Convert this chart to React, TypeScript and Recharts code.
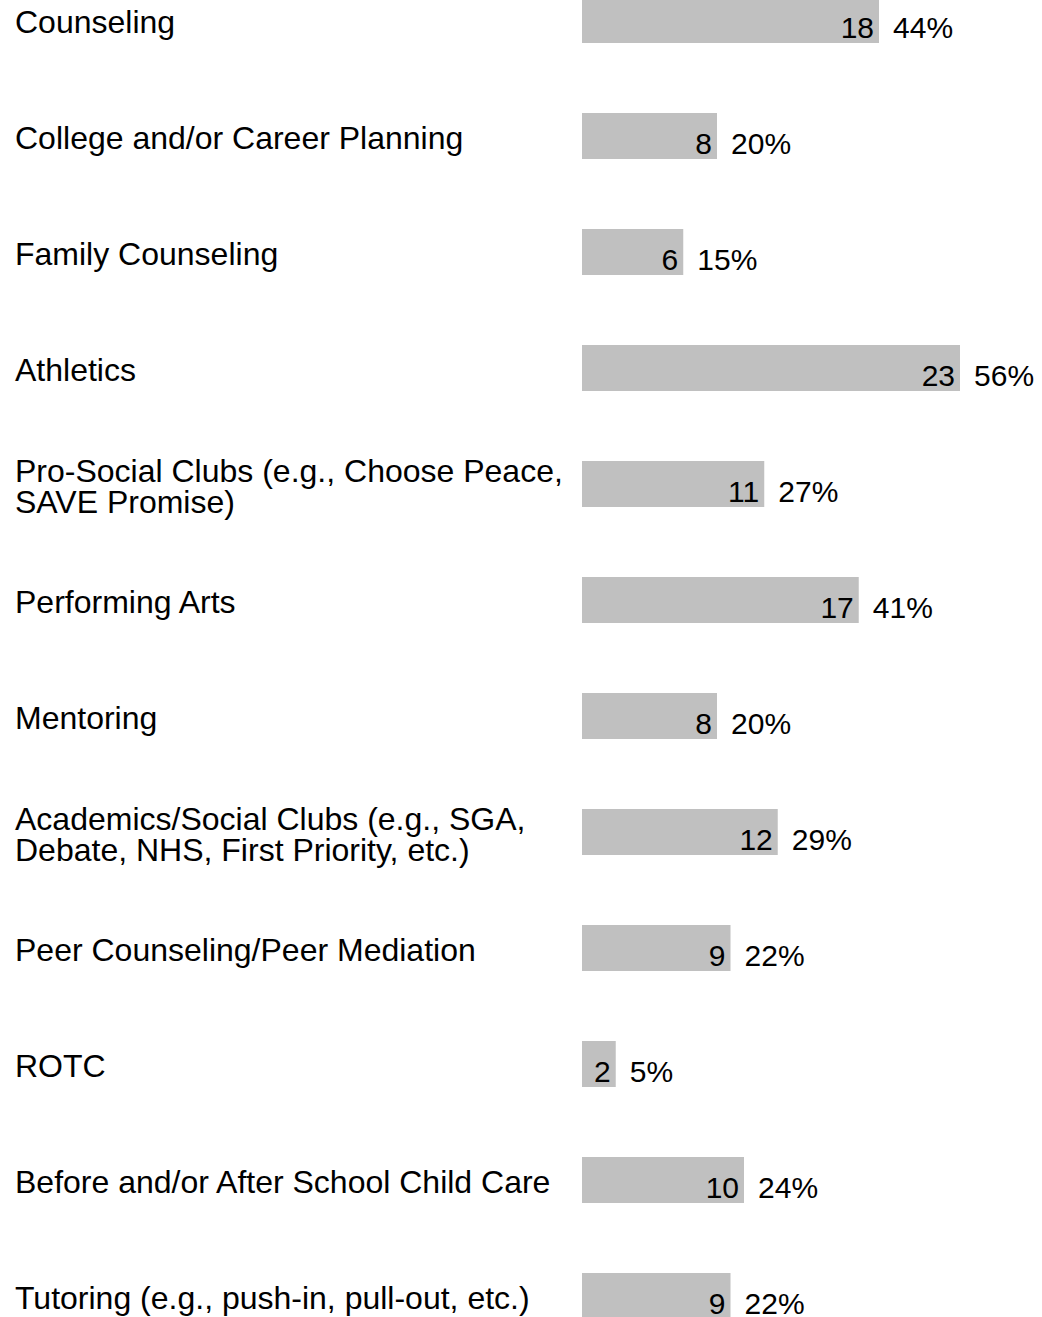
import { Bar, BarChart, LabelList, XAxis, YAxis } from "recharts"

// categories top to bottom; "\n" marks where the source wraps the label
const categories = [
  "Counseling",
  "College and/or Career Planning",
  "Family Counseling",
  "Athletics",
  "Pro-Social Clubs (e.g., Choose Peace,\nSAVE Promise)",
  "Performing Arts",
  "Mentoring",
  "Academics/Social Clubs (e.g., SGA,\nDebate, NHS, First Priority, etc.)",
  "Peer Counseling/Peer Mediation",
  "ROTC",
  "Before and/or After School Child Care",
  "Tutoring (e.g., push-in, pull-out, etc.)",
]
const counts = [18, 8, 6, 23, 11, 17, 8, 12, 9, 2, 10, 9]
const percents = [44, 20, 15, 56, 27, 41, 20, 29, 22, 5, 24, 22]

const FONT = "'Liberation Sans', Arial, sans-serif"
const LABEL_FS = 32
const VALUE_FS = 30
const BAND = 116

const data = categories.map((name, i) => ({ name, count: counts[i], pct: percents[i] }))

function CategoryTick({ y, payload }: any) {
  const lines = String(payload.value).split("\n")
  const lh = 31
  return (
    <text x={15} y={y} fontFamily={FONT} fontSize={LABEL_FS} fill="#000" textAnchor="start">
      {lines.map((l, i) => (
        <tspan key={i} x={15} y={y + 13 + (i - (lines.length - 1) / 2) * lh}>
          {l}
        </tspan>
      ))}
    </text>
  )
}

function CountLabel({ x, y, width, height, value }: any) {
  return (
    <text x={x + width - 5} y={y + height / 2 + 17.5} textAnchor="end" fontFamily={FONT} fontSize={VALUE_FS} fill="#000">
      {value}
    </text>
  )
}

function PctLabel({ x, y, width, height, value }: any) {
  return (
    <text x={x + width + 14} y={y + height / 2 + 17.5} textAnchor="start" fontFamily={FONT} fontSize={VALUE_FS} fill="#000">
      {value}%
    </text>
  )
}

export default function App() {
  return (
    <div style={{ position: "absolute", left: 0, top: 0, width: 1042, height: 1317, overflow: "hidden", background: "#fff" }}>
      <div style={{ position: "absolute", left: 0, top: -(BAND / 2 - 19.5) }}>
        <BarChart
          width={1042}
          height={BAND * categories.length}
          data={data}
          layout="vertical"
          margin={{ top: 0, right: 55, bottom: 0, left: 0 }}
          style={{ overflow: "visible" }}
        >
          <XAxis type="number" domain={[0, 60]} hide />
          <YAxis
            type="category"
            dataKey="name"
            width={582}
            axisLine={false}
            tickLine={false}
            interval={0}
            tick={<CategoryTick />}
          />
          <Bar dataKey="pct" fill="#c0c0c0" barSize={46} isAnimationActive={false}>
            <LabelList dataKey="count" content={<CountLabel />} />
            <LabelList dataKey="pct" content={<PctLabel />} />
          </Bar>
        </BarChart>
      </div>
    </div>
  )
}
